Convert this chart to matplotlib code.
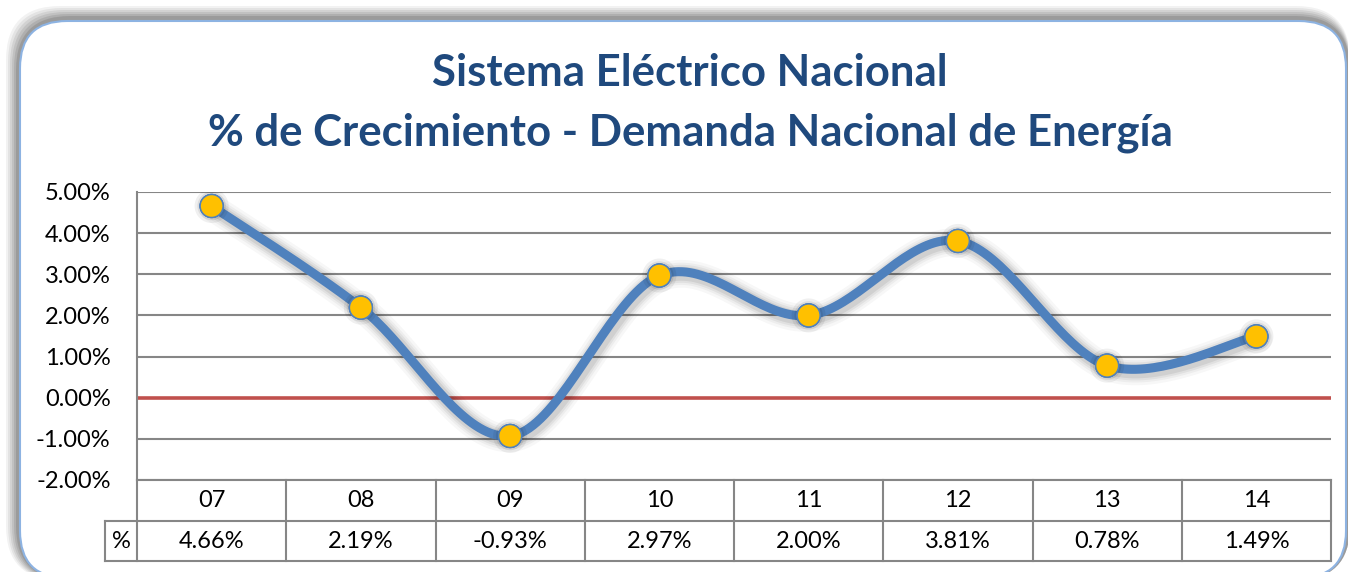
import numpy as np
import matplotlib
matplotlib.use("Agg")
import matplotlib.pyplot as plt
from matplotlib.patches import FancyBboxPatch
import matplotlib.patheffects as pe

categories = ["07", "08", "09", "10", "11", "12", "13", "14"]
values = [4.66, 2.19, -0.93, 2.97, 2.00, 3.81, 0.78, 1.49]
yticks = [-2, -1, 0, 1, 2, 3, 4, 5]
title_lines = ["Sistema Eléctrico Nacional", "% de Crecimiento - Demanda Nacional de Energía"]
row_label = "%"

W, H = 1348, 572
plt.rcParams['font.family'] = ['Lato', 'DejaVu Sans']
fig = plt.figure(figsize=(W / 100, H / 100), dpi=100)
fig.patch.set_facecolor('white')

def fx(px):
    return px / W

def fy(py):
    return 1 - py / H

# shadow of panel
for i, a in enumerate([0.05, 0.06, 0.07, 0.08, 0.09, 0.11]):
    d = 14 - 2 * i
    sh = FancyBboxPatch((fx(20 - d), fy(580)), fx(1330 + d), fy(20 - d) - fy(580),
                        boxstyle="round,pad=0,rounding_size=0.04", transform=fig.transFigure,
                        facecolor='black', edgecolor='none', alpha=a, zorder=0,
                        mutation_aspect=W / H)
    fig.patches.append(sh)
panel = FancyBboxPatch((fx(20), fy(578)), fx(1326), fy(21) - fy(578),
                       boxstyle="round,pad=0,rounding_size=0.035", transform=fig.transFigure,
                       facecolor='white', edgecolor='#8DB3E2', linewidth=1.5, zorder=1,
                       mutation_aspect=W / H)
fig.patches.append(panel)

title_color = '#1F497D'
fig.text(fx(690), fy(73), title_lines[0], ha='center', va='center', fontsize=31.5,
         fontweight='bold', color=title_color)
fig.text(fx(690), fy(133), title_lines[1], ha='center', va='center', fontsize=31.5,
         fontweight='bold', color=title_color)

L, R, T, B = 137, 1331, 192, 480
ax = fig.add_axes([fx(L), fy(B), fx(R - L), fy(T) - fy(B)])
ax.set_facecolor('none')
ax.set_zorder(2)
n = len(categories)
ax.set_xlim(-0.5, n - 0.5)
ax.set_ylim(-2, 5)
ax.set_yticks(yticks)
fs = 17
ax.set_yticklabels([f"{v:.2f}%" for v in yticks], fontsize=fs, color='#000000')
ax.tick_params(axis='y', length=0, pad=19)
ax.set_xticks([])
for s in ['top', 'right', 'bottom']:
    ax.spines[s].set_visible(False)
ax.spines['left'].set_color('#868686')
ax.spines['left'].set_linewidth(1.5)
for v in yticks:
    if v == 0:
        continue
    ax.axhline(v, color='#868686', linewidth=1.5, zorder=1)
ax.axhline(0, color='#C0504D', linewidth=2.6, zorder=2)

# Smooth curve (Catmull-Rom style, like Excel smoothing)
x = np.arange(n, dtype=float)
y = np.array(values, dtype=float)
px = np.concatenate([[x[0]], x, [x[-1]]])
py = np.concatenate([[y[0]], y, [y[-1]]])
xs, ys = [], []
t = np.linspace(0, 1, 40)
for i in range(n - 1):
    p0 = np.array([px[i], py[i]]); p1 = np.array([px[i + 1], py[i + 1]])
    p2 = np.array([px[i + 2], py[i + 2]]); p3 = np.array([px[i + 3], py[i + 3]])
    c1 = p1 + (p2 - p0) / 6
    c2 = p2 - (p3 - p1) / 6
    b = ((1 - t) ** 3)[:, None] * p1 + (3 * (1 - t) ** 2 * t)[:, None] * c1 + \
        (3 * (1 - t) * t ** 2)[:, None] * c2 + (t ** 3)[:, None] * p2
    xs.extend(b[:, 0]); ys.extend(b[:, 1])

shadow = [pe.SimpleLineShadow(offset=(1.5, -1.5), shadow_color='black', alpha=a, linewidth=lw)
          for a, lw in [(0.03, 20), (0.04, 16), (0.05, 13), (0.07, 10)]]
ax.plot(xs, ys, color='#4F81BD', linewidth=6.5, solid_capstyle='round', zorder=3,
        path_effects=shadow + [pe.Normal()])
mshadow = [pe.withStroke(linewidth=8, foreground=(0, 0, 0, 0.06)),
           pe.withStroke(linewidth=4, foreground=(0, 0, 0, 0.08)), pe.Normal()]
ax.plot(x, y, linestyle='none', marker='o', markersize=16.5, markerfacecolor='#FFC000',
        markeredgecolor='#4F81BD', markeredgewidth=1.0, zorder=4, path_effects=mshadow)

# Data table below the plot
tr = ax.get_xaxis_transform()
row1_bot = -(521 - B) / (B - T)
row2_bot = -(561 - B) / (B - T)
gc = '#868686'
lwt = 1.5
xl_label = -0.5 - (L - 105) / ((R - L) / n)
for k in range(n + 1):
    xb = k - 0.5
    ax.plot([xb, xb], [0, row2_bot], transform=tr, color=gc, lw=lwt, clip_on=False, zorder=2)
ax.plot([xl_label, xl_label], [row1_bot, row2_bot], transform=tr, color=gc, lw=lwt, clip_on=False)
for yy in [row1_bot, row2_bot]:
    ax.plot([xl_label, n - 0.5], [yy, yy], transform=tr, color=gc, lw=lwt, clip_on=False)
ax.plot([-0.5, n - 0.5], [0, 0], transform=tr, color=gc, lw=lwt, clip_on=False)
for k, (c, v) in enumerate(zip(categories, values)):
    ax.text(k, row1_bot / 2, c, transform=tr, ha='center', va='center', fontsize=fs, color='black')
    ax.text(k, (row1_bot + row2_bot) / 2, f"{v:.2f}%", transform=tr, ha='center', va='center',
            fontsize=fs, color='black')
ax.text((xl_label - 0.5) / 2, (row1_bot + row2_bot) / 2, row_label, transform=tr,
        ha='center', va='center', fontsize=fs, color='black')

fig.savefig('out.png', dpi=100, facecolor='white')
